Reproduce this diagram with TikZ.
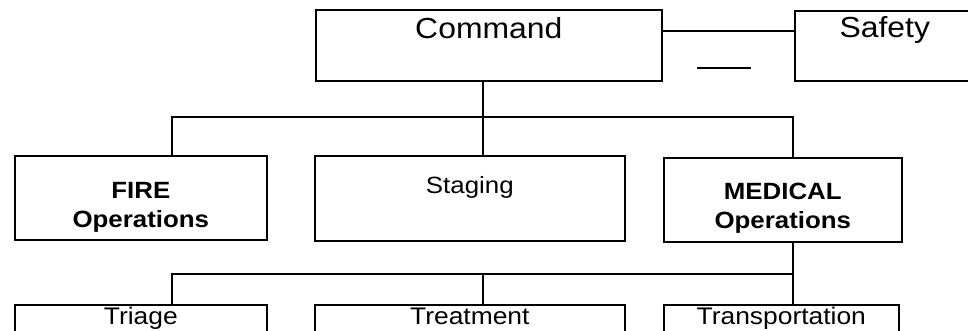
\documentclass[tikz,border=0pt]{standalone}
\usepackage{fontspec}
\setmainfont{Liberation Sans}[FakeStretch=1.1]
\begin{document}
\begin{tikzpicture}[x=1pt,y=-1pt,
    orgbox/.style={draw,line width=1.6pt,inner sep=0pt,anchor=north west,align=center},
    bigtext/.style={font=\fontsize{29}{33}\selectfont},
    midtext/.style={font=\fontsize{23.5}{29.5}\selectfont},
    lowtext/.style={font=\fontsize{24}{29}\selectfont},
    link/.style={line width=1.2pt}]
        \useasboundingbox (0,0) rectangle (968,330);

        % top row
        \node[orgbox,bigtext,minimum width=346pt,text height=29pt,text depth=42pt] (command) at (315,9) {Command};
        \node[orgbox,bigtext,minimum width=180pt,text height=27pt,text depth=43pt] (safety) at (794,10) {Safety};

        % second row
        \node[orgbox,midtext,minimum width=252pt,text height=72pt,text depth=12pt] (fire) at (14,155) {\textbf{FIRE}\\\textbf{Operations}};
        \node[orgbox,midtext,minimum width=310pt,text height=38pt,text depth=47pt] (staging) at (314,155) {Staging};
        \node[orgbox,midtext,minimum width=238pt,text height=71pt,text depth=13pt] (medical) at (663,157) {\textbf{MEDICAL}\\\textbf{Operations}};

        % third row
        \node[orgbox,lowtext,minimum width=252pt,text height=20pt,text depth=60pt] (triage) at (14,304) {Triage};
        \node[orgbox,lowtext,minimum width=310pt,text height=20pt,text depth=60pt] (treatment) at (314,304) {Treatment};
        \node[orgbox,lowtext,minimum width=235pt,text height=20pt,text depth=60pt] (transport) at (663,304) {Transportation};

        % columns and buses
        \coordinate (firex) at (172,0);
        \coordinate (midx) at (483,0);
        \coordinate (medx) at (793,0);
        \coordinate (topbus) at (0,117);
        \coordinate (lowbus) at (0,274);
        \coordinate (safetyy) at (0,31);
        \coordinate (dashl) at (697,68);
        \coordinate (dashr) at (751,68);

        \draw[link] (command.south -| midx)--(staging.north -| midx);
        \draw[link] (fire.north -| firex)--(firex |- topbus)--(medx |- topbus)--(medical.north -| medx);
        \draw[link] (medical.south -| medx)--(transport.north -| medx);
        \draw[link] (triage.north -| firex)--(firex |- lowbus)--(medx |- lowbus);
        \draw[link] (midx |- lowbus)--(treatment.north -| midx);
        \draw[link] (command.east |- safetyy)--(safety.west |- safetyy);
        \draw[link] (dashl)--(dashr);
    \end{tikzpicture}
\end{document}
